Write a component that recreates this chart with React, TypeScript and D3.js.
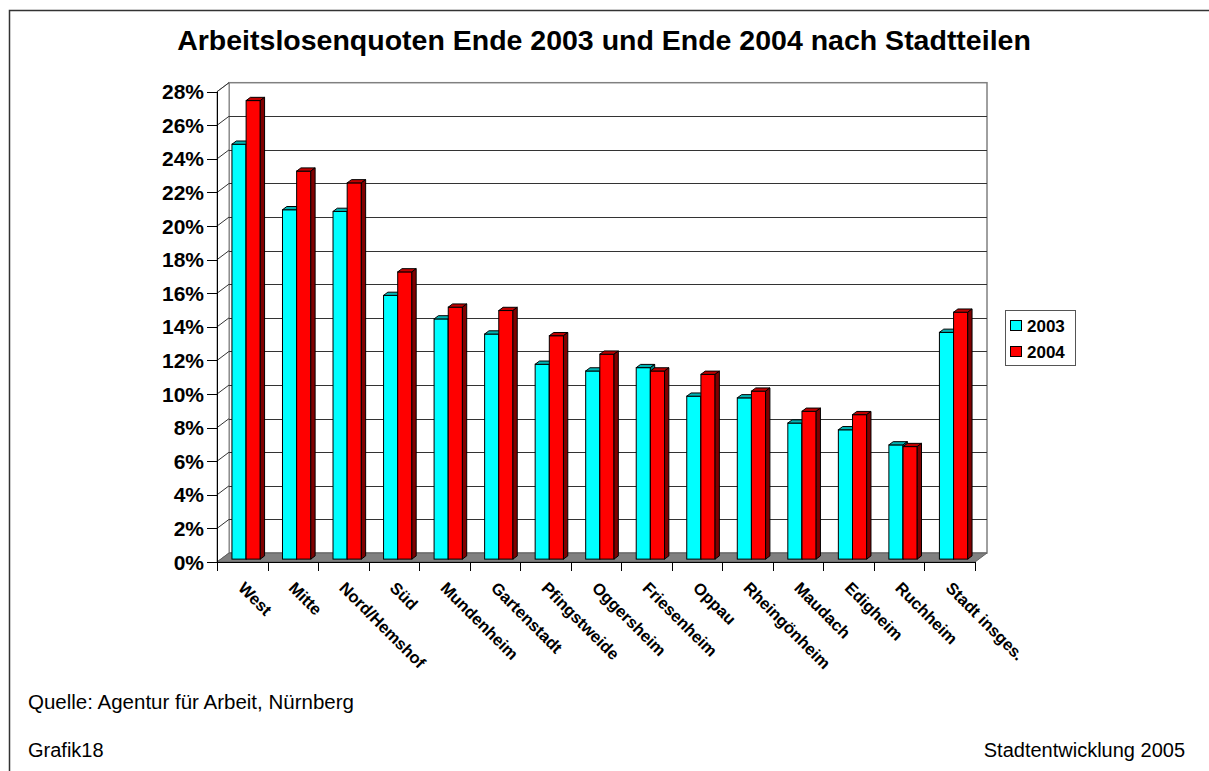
import React from "react";
import * as d3 from "d3";

const categories = ["West","Mitte","Nord/Hemshof","Süd","Mundenheim","Gartenstadt","Pfingstweide","Oggersheim","Friesenheim","Oppau","Rheingönheim","Maudach","Edigheim","Ruchheim","Stadt insges."];
const values2003 = [24.7,20.8,20.7,15.7,14.3,13.4,11.6,11.2,11.4,9.7,9.6,8.1,7.7,6.8,13.5];
const values2004 = [27.3,23.1,22.4,17.1,15.0,14.8,13.3,12.2,11.2,11.0,10.0,8.8,8.6,6.7,14.7];
const seriesNames = ["2003","2004"];
const yTicks = [0,2,4,6,8,10,12,14,16,18,20,22,24,26,28];

const FONT = "'Liberation Sans', Arial, Helvetica, sans-serif";
const W = 1209, H = 771;
const DX = 12, DY = -9;
const F1 = 0.32, F2 = 0.68;

const colors = {
  "2003": { front: "#00FFFF", top: "#00B4B4", side: "#008080" },
  "2004": { front: "#FF0000", top: "#C00000", side: "#800000" },
};

export default function App() {
  const x = d3.scaleBand<string>().domain(categories).range([217, 975]).paddingInner(0).paddingOuter(0);
  const xs = d3.scaleBand<string>().domain(seriesNames).range([0, x.bandwidth()]).paddingInner(0).paddingOuter(0.785);
  const y = d3.scaleLinear().domain([0, 28]).range([562, 91.7]);
  const y0 = y(0);
  const xl = 217, xr = 975;
  const ox = DX * F1, oy = DY * F1, bx = DX * F2, by = DY * F2;

  const bars: React.ReactNode[] = [];
  categories.forEach((c, i) => {
    const vals = [values2003[i], values2004[i]];
    seriesNames.forEach((s, j) => {
      const v = vals[j];
      const x0 = (x(c) as number) + (xs(s) as number);
      const w = xs.bandwidth();
      const yv = y(v);
      const col = (colors as any)[s];
      const fx = x0 + ox, fy = yv + oy;
      bars.push(
        <g key={c + s}>
          <rect x={fx} y={fy} width={w} height={y0 - yv} fill={col.front} stroke="#000" strokeWidth={1} />
          <polygon points={`${fx},${fy} ${fx + w},${fy} ${x0 + bx + w},${yv + by} ${x0 + bx},${yv + by}`} fill={col.top} stroke="#000" strokeWidth={1} strokeLinejoin="round" />
          <polygon points={`${fx + w},${fy} ${x0 + bx + w},${yv + by} ${x0 + bx + w},${y0 + by} ${fx + w},${y0 + oy}`} fill={col.side} stroke="#000" strokeWidth={1} strokeLinejoin="round" />
        </g>
      );
    });
  });

  return (
    <svg width={W} height={H} style={{ position: "absolute", left: 0, top: 0, background: "#fff" }} fontFamily={FONT}>
      <rect x={0} y={0} width={W} height={H} fill="#fff" />
      <rect x={9.5} y={10.5} width={1300} height={900} fill="none" stroke="#333" strokeWidth={1.5} />
      <text x={604} y={50} textAnchor="middle" fontSize={28.5} fontWeight="bold">Arbeitslosenquoten Ende 2003 und Ende 2004 nach Stadtteilen</text>

      {/* back wall */}
      <rect x={xl + DX} y={y(28) + DY} width={xr - xl} height={y0 - y(28)} fill="#fff" stroke="#808080" strokeWidth={1.5} />
      {/* left wall */}
      <polygon points={`${xl},${y(28)} ${xl + DX},${y(28) + DY} ${xl + DX},${y0 + DY} ${xl},${y0}`} fill="#fff" stroke="#808080" strokeWidth={1} />
      {yTicks.map(t => (
        <g key={t}>
          {t > 0 && t < 28 && <line x1={xl + DX} x2={xr + DX} y1={Math.round(y(t) + DY) + 0.5} y2={Math.round(y(t) + DY) + 0.5} stroke="#333" strokeWidth={1} />}
          {t > 0 && <line x1={xl} y1={y(t)} x2={xl + DX} y2={y(t) + DY} stroke="#333" strokeWidth={1} />}
          <line x1={207} x2={xl} y1={Math.round(y(t)) + 0.5} y2={Math.round(y(t)) + 0.5} stroke="#000" strokeWidth={1} />
          <text x={204} y={y(t)} dy="0.36em" textAnchor="end" fontSize={21} fontWeight="bold">{t}%</text>
        </g>
      ))}
      {/* floor */}
      <polygon points={`${xl},${y0} ${xl + DX},${y0 + DY} ${xr + DX},${y0 + DY} ${xr},${y0}`} fill="#808080" stroke="#606060" strokeWidth={1} />
      <line x1={xl + 0.5} x2={xl + 0.5} y1={y(28)} y2={y0} stroke="#000" strokeWidth={1} />
      <line x1={xl} x2={xr} y1={y0 + 0.5} y2={y0 + 0.5} stroke="#000" strokeWidth={1} />
      {d3.range(categories.length + 1).map(i => {
        const xx = Math.round(xl + x.step() * i) + 0.5;
        return <line key={i} x1={xx} x2={xx} y1={y0} y2={y0 + 9} stroke="#000" strokeWidth={1} />;
      })}

      {bars}

      {categories.map(c => {
        const cx = (x(c) as number) + x.bandwidth() / 2;
        return (
          <text key={c} transform={`translate(${cx - 5},589) rotate(45)`} fontSize={16.5} fontWeight="bold">{c}</text>
        );
      })}

      {/* legend */}
      <rect x={1005.5} y={310.5} width={70} height={55} fill="#fff" stroke="#555" strokeWidth={1} />
      {seriesNames.map((s, i) => (
        <g key={s}>
          <rect x={1010.5} y={320.5 + i * 26} width={11} height={10} fill={(colors as any)[s].front} stroke="#000" strokeWidth={1} />
          <text x={1027} y={332 + i * 26} fontSize={17} fontWeight="bold">{s}</text>
        </g>
      ))}

      <text x={28} y={709} fontSize={20.5}>Quelle: Agentur für Arbeit, Nürnberg</text>
      <text x={28} y={757} fontSize={20}>Grafik18</text>
      <text x={1185} y={757} fontSize={20} textAnchor="end">Stadtentwicklung 2005</text>
    </svg>
  );
}
